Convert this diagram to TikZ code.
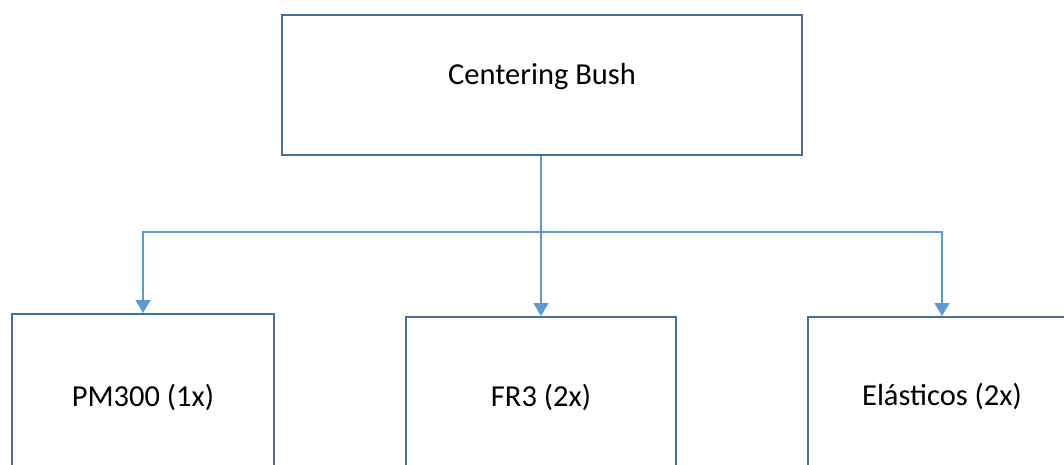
\documentclass[tikz,border=0pt]{standalone}
\usepackage{fontspec}
\setmainfont{Carlito}
\usetikzlibrary{arrows.meta}
\definecolor{boxblue}{HTML}{41719C}
\definecolor{lineblue}{HTML}{5B9BD5}
\begin{document}
\begin{tikzpicture}[x=1pt,y=1pt,
  box/.style={draw=boxblue,line width=2pt,inner sep=0pt,fill=white,
    font=\fontsize{30.5}{34}\selectfont,anchor=north},
  conn/.style={draw=lineblue,line width=1.5pt},
  arr/.style={conn,-{Triangle[width=15pt,length=13pt]}}]
\useasboundingbox (0,0) rectangle (1064,-464);
\clip (0,0) rectangle (1064,-464);
\node[box,minimum width=520pt,text height=69pt,text depth=71pt] (top) at (542,-14) {Centering Bush};
\node[box,minimum width=262pt,text height=92pt,text depth=90pt] (b1) at (143,-313) {PM300 (1x)};
\node[box,minimum width=270pt,text height=89pt,text depth=90pt] (b2) at (541,-316) {FR3 (2x)};
\node[box,minimum width=268pt,text height=88pt,text depth=90pt] (b3) at (942,-316) {Elásticos (2x)};
\coordinate (j) at (541,-232);
\draw[conn] (j |- top.south) -- (j);
\draw[arr] (j) -| (b1.north);
\draw[arr] (j) -- (b2.north);
\draw[arr] (j) -| (b3.north);
\end{tikzpicture}
\end{document}
